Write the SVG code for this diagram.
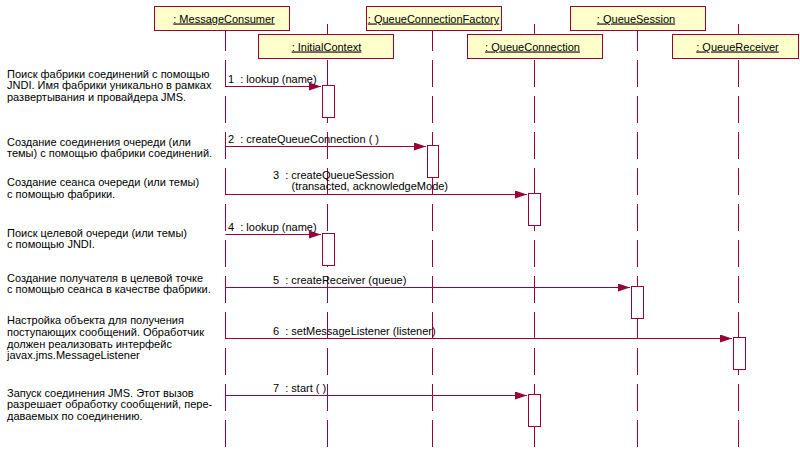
<svg xmlns="http://www.w3.org/2000/svg" width="800" height="460" viewBox="0 0 800 460">
<style>
.bg{fill:#ffffff}
.life{stroke:#990033;stroke-width:1;stroke-dasharray:27 9;fill:none}
.box{fill:#ffffcc;stroke:#990033;stroke-width:1}
.act{fill:#ffffff;stroke:#990033;stroke-width:1}
.msg{stroke:#990033;stroke-width:1;fill:none;marker-end:url(#ah)}
.t{font-family:"Liberation Sans",Arial,sans-serif;font-size:11px;fill:#000000;white-space:pre}
.h{text-anchor:middle;text-decoration:underline}
</style>
<defs>
<marker id="ah" markerWidth="12" markerHeight="8" refX="12" refY="4" orient="auto" markerUnits="userSpaceOnUse">
<path d="M0,0 L12,4 L0,8 z" fill="#990033"/>
</marker>
</defs>
<rect class="bg" x="0" y="0" width="800" height="460"/>

<g id="MessageConsumer">
<line class="life" x1="225.5" y1="24" x2="225.5" y2="450"/>
<rect class="box" x="154.5" y="6.5" width="135" height="24"/>
<text class="t h" x="224" y="22.5">: MessageConsumer</text>
</g>
<g id="InitialContext">
<line class="life" x1="327.5" y1="24" x2="327.5" y2="450"/>
<rect class="box" x="258.5" y="34.5" width="135" height="24"/>
<text class="t h" x="326.5" y="50.5">: InitialContext</text>
<rect class="act" x="322.5" y="85.5" width="12" height="32"/>
<rect class="act" x="322.5" y="233.5" width="12" height="32"/>
</g>
<g id="QueueConnectionFactory">
<line class="life" x1="432.5" y1="24" x2="432.5" y2="450"/>
<rect class="box" x="366.5" y="6.5" width="135" height="24"/>
<text class="t h" x="433.5" y="22.5">: QueueConnectionFactory</text>
<rect class="act" x="427.5" y="145.5" width="11" height="32"/>
</g>
<g id="QueueConnection">
<line class="life" x1="534.5" y1="24" x2="534.5" y2="450"/>
<rect class="box" x="467.5" y="34.5" width="135" height="24"/>
<text class="t h" x="532.5" y="50.5">: QueueConnection</text>
<rect class="act" x="528.5" y="193.5" width="12" height="32"/>
<rect class="act" x="528.5" y="394.5" width="12" height="32"/>
</g>
<g id="QueueSession">
<line class="life" x1="637.5" y1="24" x2="637.5" y2="450"/>
<rect class="box" x="570.5" y="6.5" width="135" height="24"/>
<text class="t h" x="636" y="22.5">: QueueSession</text>
<rect class="act" x="631.5" y="286.5" width="12" height="32"/>
</g>
<g id="QueueReceiver">
<line class="life" x1="738.5" y1="24" x2="738.5" y2="450"/>
<rect class="box" x="672.5" y="34.5" width="126" height="24"/>
<text class="t h" x="737.5" y="50.5">: QueueReceiver</text>
<rect class="act" x="733.5" y="337.5" width="12" height="32"/>
</g>

<g id="connectors">
<line class="msg" x1="225.5" y1="86.5" x2="321" y2="86.5"/>
<text class="t" x="228" y="83" xml:space="preserve">1  : lookup (name)</text>
<line class="msg" x1="225.5" y1="146.5" x2="426" y2="146.5"/>
<text class="t" x="228" y="143" xml:space="preserve">2  : createQueueConnection ( )</text>
<line class="msg" x1="225.5" y1="194.5" x2="527" y2="194.5"/>
<text class="t" x="273" y="178.5" xml:space="preserve">3  : createQueueSession</text>
<text class="t" x="291.5" y="189.5">(transacted, acknowledgeMode)</text>
<line class="msg" x1="225.5" y1="234.5" x2="321" y2="234.5"/>
<text class="t" x="228" y="230.5" xml:space="preserve">4  : lookup (name)</text>
<line class="msg" x1="225.5" y1="287.5" x2="630" y2="287.5"/>
<text class="t" x="273" y="283.5" xml:space="preserve">5  : createReceiver (queue)</text>
<line class="msg" x1="225.5" y1="338.5" x2="732" y2="338.5"/>
<text class="t" x="273" y="334.5" xml:space="preserve">6  : setMessageListener (listener)</text>
<line class="msg" x1="225.5" y1="395.5" x2="527" y2="395.5"/>
<text class="t" x="273" y="391.5" xml:space="preserve">7  : start ( )</text>
</g>

<g id="notes">
<text class="t" x="7" y="77.5">Поиск фабрики соединений с помощью</text>
<text class="t" x="7" y="89">JNDI. Имя фабрики уникально в рамках</text>
<text class="t" x="7" y="100.7">развертывания и провайдера JMS.</text>
<text class="t" x="7" y="145.7">Создание соединения очереди (или</text>
<text class="t" x="7" y="157.3">темы) с помощью фабрики соединений.</text>
<text class="t" x="7" y="186">Создание сеанса очереди (или темы)</text>
<text class="t" x="7" y="197.7">с помощью фабрики.</text>
<text class="t" x="7" y="236.5">Поиск целевой очереди (или темы)</text>
<text class="t" x="7" y="248.2">с помощью JNDI.</text>
<text class="t" x="7" y="281.7">Создание получателя в целевой точке</text>
<text class="t" x="7" y="293.3">с помощью сеанса в качестве фабрики.</text>
<text class="t" x="7" y="324.3">Настройка объекта для получения</text>
<text class="t" x="7" y="336">поступающих сообщений. Обработчик</text>
<text class="t" x="7" y="347.7">должен реализовать интерфейс</text>
<text class="t" x="7" y="359.3">javax.jms.MessageListener</text>
<text class="t" x="7" y="396.7">Запуск соединения JMS. Этот вызов</text>
<text class="t" x="7" y="408.3">разрешает обработку сообщений, пере-</text>
<text class="t" x="7" y="420">даваемых по соединению.</text>
</g>
</svg>
